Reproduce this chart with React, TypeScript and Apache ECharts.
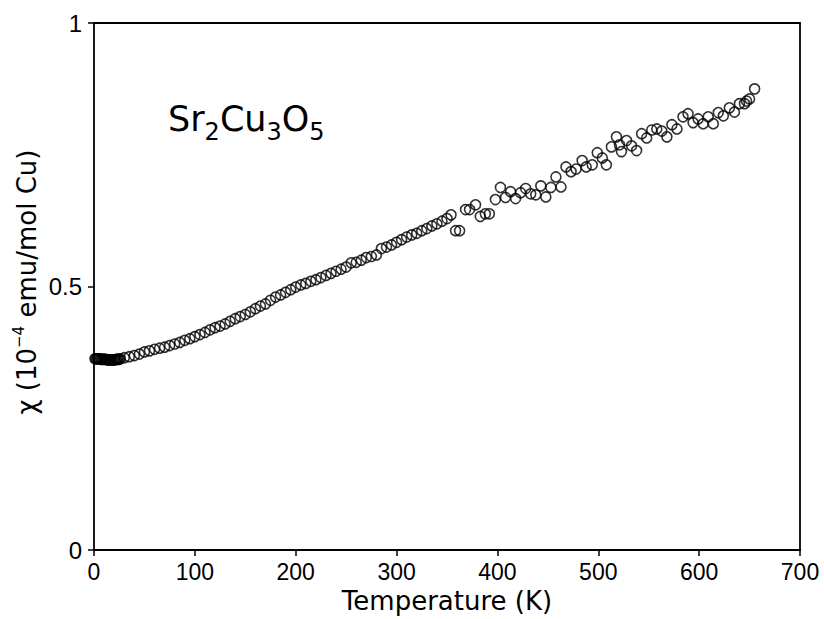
import React, { useEffect, useRef } from "react";
import * as echarts from "echarts";

// Temperature (K) and susceptibility (10^-4 emu/mol Cu)
const lowT: number[] = [1, 2, 3, 4, 5, 6, 7, 8, 9, 10, 11, 12, 13, 14, 15, 16, 17, 18, 19, 20, 21, 22, 23, 24, 25, 26];
const lowChi: number[] = [0.363, 0.363, 0.363, 0.363, 0.363, 0.363, 0.362, 0.362, 0.362, 0.362, 0.362, 0.362, 0.361, 0.361, 0.361, 0.361, 0.361, 0.361, 0.361, 0.361, 0.361, 0.362, 0.362, 0.362, 0.362, 0.363];

const midT: number[] = [30, 35, 40, 45, 50, 55, 60, 65, 70, 75, 80, 85, 90, 95, 100, 105, 110, 115, 120, 125, 130, 135, 140, 145, 150, 155, 160, 165, 170, 175, 180, 185, 190, 195, 200, 205, 210, 215, 220, 225, 230, 235, 240, 245, 250, 255, 260, 265, 270, 275, 280, 285, 290, 295, 300, 305, 310, 315, 320, 325, 330, 335, 340, 345, 350, 354];
const midChi: number[] = [0.365, 0.367, 0.369, 0.372, 0.376, 0.378, 0.381, 0.383, 0.385, 0.388, 0.391, 0.394, 0.398, 0.401, 0.405, 0.409, 0.413, 0.418, 0.422, 0.425, 0.429, 0.434, 0.439, 0.443, 0.447, 0.452, 0.458, 0.463, 0.467, 0.474, 0.480, 0.484, 0.489, 0.494, 0.499, 0.503, 0.506, 0.510, 0.513, 0.517, 0.521, 0.525, 0.529, 0.533, 0.537, 0.545, 0.546, 0.550, 0.555, 0.557, 0.560, 0.572, 0.575, 0.579, 0.584, 0.589, 0.594, 0.598, 0.601, 0.606, 0.610, 0.615, 0.619, 0.624, 0.629, 0.636];

const highT: number[] = [358.5, 362.5, 368.4, 372.4, 378.3, 383, 388, 392, 398, 403, 408, 413, 418, 423, 428, 433, 438, 443, 448, 453, 458, 463, 468, 473, 478, 484, 488, 494, 499, 504, 508, 513, 518, 521, 523, 528, 533, 538, 543, 548, 553, 558, 563, 568, 573, 578, 584, 589, 594, 599, 604, 609, 614, 619, 624, 630, 635, 640, 645, 647, 650, 655];
const highChi: number[] = [0.606, 0.606, 0.646, 0.646, 0.655, 0.633, 0.638, 0.638, 0.665, 0.688, 0.669, 0.680, 0.667, 0.678, 0.686, 0.676, 0.674, 0.691, 0.670, 0.688, 0.708, 0.689, 0.727, 0.718, 0.723, 0.739, 0.727, 0.731, 0.754, 0.744, 0.731, 0.765, 0.784, 0.769, 0.756, 0.777, 0.767, 0.758, 0.790, 0.782, 0.797, 0.799, 0.795, 0.784, 0.807, 0.799, 0.822, 0.828, 0.811, 0.818, 0.809, 0.822, 0.809, 0.830, 0.824, 0.839, 0.831, 0.847, 0.847, 0.852, 0.856, 0.875];

const xTicks = { min: 0, max: 700, interval: 100 };
const yTicks = { min: 0, max: 1, interval: 0.5 };

const FONT = "DejaVu Sans";
const TICKFONT = "Liberation Sans";

export default function App() {
  const ref = useRef<HTMLDivElement>(null);
  useEffect(() => {
    document.body.style.margin = "0";
    if (!ref.current) return;
    const chart = echarts.init(ref.current, null, { renderer: "svg" });
    const pts: number[][] = [];
    lowT.forEach((t, i) => pts.push([t, lowChi[i]]));
    midT.forEach((t, i) => pts.push([t, midChi[i]]));
    highT.forEach((t, i) => pts.push([t, highChi[i]]));
    const line = { show: true, onZero: false, lineStyle: { color: "#000", width: 1.8 } };
    chart.setOption({
      animation: false,
      backgroundColor: "#fff",
      grid: { left: 94, right: 24, top: 23, bottom: 68 },
      xAxis: [
        {
          type: "value",
          min: xTicks.min,
          max: xTicks.max,
          interval: xTicks.interval,
          axisLine: line,
          axisTick: { show: true, length: 6, lineStyle: { color: "#000", width: 1.5 } },
          splitLine: { show: false },
          axisLabel: { color: "#000", fontSize: 23, fontFamily: TICKFONT, margin: 10 },
          name: "Temperature (K)",
          nameLocation: "middle",
          nameGap: 37,
          nameTextStyle: { color: "#000", fontSize: 26, fontFamily: FONT },
        },
        {
          type: "value",
          position: "top",
          min: xTicks.min,
          max: xTicks.max,
          interval: xTicks.interval,
          axisLine: line,
          axisTick: { show: false },
          axisLabel: { show: false },
          splitLine: { show: false },
        },
      ],
      yAxis: [
        {
          type: "value",
          min: yTicks.min,
          max: yTicks.max,
          interval: yTicks.interval,
          axisLine: line,
          axisTick: { show: true, length: 6, lineStyle: { color: "#000", width: 1.5 } },
          splitLine: { show: false },
          axisLabel: {
            color: "#000",
            fontSize: 24,
            fontFamily: TICKFONT,
            margin: 12,
            formatter: (v: number) => (v === 0 ? "0" : v === 1 ? "1" : String(v)),
          },
        },
        {
          type: "value",
          position: "right",
          min: yTicks.min,
          max: yTicks.max,
          interval: yTicks.interval,
          axisLine: line,
          axisTick: { show: false },
          axisLabel: { show: false },
          splitLine: { show: false },
        },
      ],
      graphic: [
        {
          type: "text",
          x: 27,
          y: 282,
          rotation: Math.PI / 2,
          style: {
            text: "{a|χ (10}{s|−4}{a| emu/mol Cu)}",
            align: "center",
            verticalAlign: "middle",
            fill: "#000",
            rich: {
              a: { fontSize: 26, lineHeight: 32, fontFamily: FONT, fill: "#000" },
              s: { fontSize: 15, lineHeight: 16, verticalAlign: "top", fontFamily: FONT, fill: "#000" },
            },
          },
        },
        {
          type: "text",
          left: 168,
          top: 101,
          style: {
            text: "{m|Sr}{s|2}{m|Cu}{s|3}{m|O}{s|5}",
            fill: "#000",
            rich: {
              m: { fontSize: 35, lineHeight: 50, fontFamily: FONT, fill: "#000" },
              s: { fontSize: 24, lineHeight: 14, verticalAlign: "bottom", fontFamily: FONT, fill: "#000" },
            },
          },
        },
      ],
      series: [
        {
          type: "scatter",
          data: pts,
          symbol: "circle",
          symbolSize: 10,
          itemStyle: { color: "rgba(0,0,0,0)", borderColor: "#000", borderWidth: 1.6 },
          emphasis: { disabled: true },
        },
      ],
    });
    return () => chart.dispose();
  }, []);
  return <div ref={ref} style={{ width: 824, height: 619 }} />;
}
